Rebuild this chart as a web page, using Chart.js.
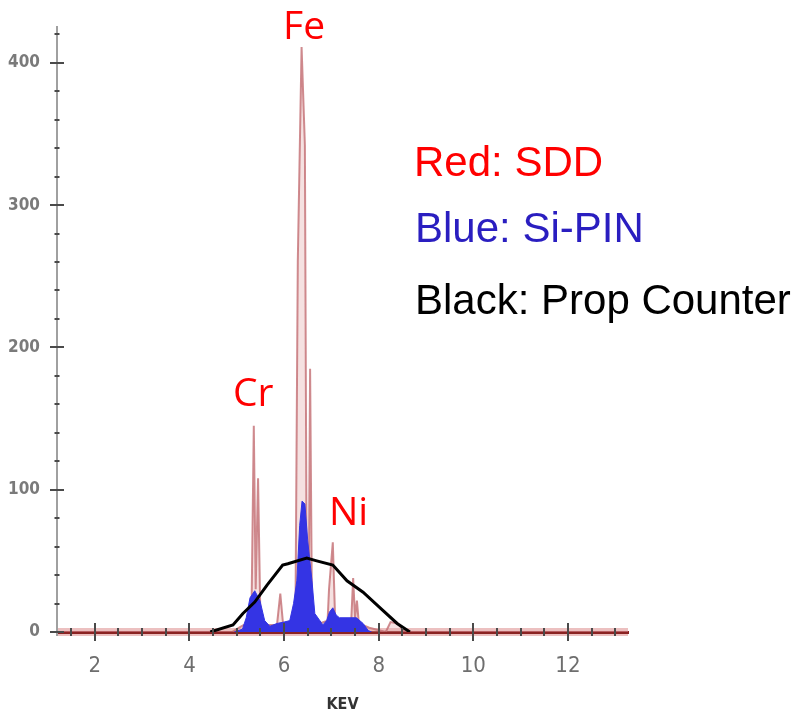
<!DOCTYPE html>
<html>
<head>
<meta charset="utf-8">
<script src="https://cdn.jsdelivr.net/npm/chart.js@4.4.0/dist/chart.umd.min.js"></script>
<style>
  html, body { margin: 0; padding: 0; background: #fff; }
  #wrap { position: relative; width: 801px; height: 714px; overflow: hidden; }
  .lbl { position: absolute; line-height: 1; white-space: nowrap; }
  .peak { font-family: 'Open Sans', sans-serif; font-size: 39px; color: #ff0000; }
  .key { font-family: 'Liberation Sans', Arial, sans-serif; font-size: 42px; }
</style>
</head>
<body>
<div id="wrap">
  <canvas id="chart" width="801" height="714"></canvas>
  <div class="lbl peak" style="left:283px;top:4px">Fe</div>
  <div class="lbl peak" style="left:233px;top:371px">Cr</div>
  <div class="lbl peak" style="left:329px;top:490px">Ni</div>
  <div class="lbl key" style="left:414px;top:141px;color:#ff0000">Red: SDD</div>
  <div class="lbl key" style="left:415px;top:207px;color:#2a1ec0">Blue: Si-PIN</div>
  <div class="lbl key" style="left:415px;top:279px;color:#000">Black: Prop Counter</div>
</div>
<script>
// Données (énergie en keV, coups)
const xTicks = [2, 4, 6, 8, 10, 12];
const yTicks = [0, 100, 200, 300, 400];

// SDD (rouge)
const sddEnergy = [1.2, 4.9, 5.05, 5.15, 5.25, 5.31, 5.36, 5.40, 5.45, 5.50, 5.60, 5.85, 5.92, 5.98, 6.15, 6.24, 6.29, 6.37, 6.44, 6.48, 6.52, 6.55, 6.59, 6.75, 6.92, 6.95, 7.03, 7.08, 7.30, 7.42, 7.46, 7.50, 7.54, 7.58, 7.80, 8.15, 8.25, 8.40, 8.55, 13.3];
const sddCounts = [0, 0, 3, 5, 6, 10, 145, 30, 108, 8, 5, 5, 27, 5, 6, 8, 260, 411, 342, 15, 20, 185, 12, 6, 8, 30, 63, 8, 6, 8, 38, 10, 22, 6, 3, 0, 7, 6, 0, 0];

// Si-PIN (bleu)
const pinEnergy = [4.95, 5.12, 5.20, 5.28, 5.38, 5.49, 5.59, 5.70, 5.85, 6.00, 6.12, 6.20, 6.27, 6.33, 6.38, 6.44, 6.50, 6.59, 6.65, 6.82, 6.90, 6.96, 7.03, 7.10, 7.17, 7.33, 7.53, 7.67, 7.78, 7.85];
const pinCounts = [0, 2, 10, 24, 29, 22, 8, 4, 6, 7, 8, 20, 36, 75, 92, 90, 64, 36, 13, 5, 8, 14, 17, 12, 10, 10, 10, 6, 1, 0];

// Compteur proportionnel (noir)
const propEnergy = [4.44, 4.92, 5.13, 5.38, 5.64, 5.97, 6.08, 6.48, 6.69, 7.03, 7.33, 7.67, 8.03, 8.39, 8.66];
const propCounts = [0, 5, 13, 21, 33, 47, 48, 52, 50, 47, 36, 28, 17, 6, 0];

const toPoints = (xs, ys) => xs.map((x, i) => ({ x, y: ys[i] }));

// Petites graduations croisées sur les axes
const crossTicks = {
  id: 'crossTicks',
  afterDraw(chart) {
    const ctx = chart.ctx;
    const xs = chart.scales.x;
    const ys = chart.scales.y;
    const { left, bottom } = chart.chartArea;
    ctx.save();
    ctx.strokeStyle = '#4a4a4a';
    ctx.lineWidth = 2;
    for (let v = 0; v <= 420; v += 20) {
      const py = Math.round(ys.getPixelForValue(v));
      const half = v % 100 === 0 ? 7 : 2.5;
      ctx.beginPath();
      ctx.moveTo(left - half, py);
      ctx.lineTo(left + half, py);
      ctx.stroke();
    }
    for (let v = 1.5; v <= 13.01; v += 0.5) {
      const px = Math.round(xs.getPixelForValue(v));
      const major = xTicks.includes(v);
      ctx.beginPath();
      ctx.moveTo(px, bottom - (major ? 9 : 4));
      ctx.lineTo(px, bottom + (major ? 9 : 4));
      ctx.stroke();
    }
    ctx.restore();
  }
};

const narrow = "'Liberation Sans Narrow', 'DejaVu Sans Condensed', sans-serif";

new Chart(document.getElementById('chart'), {
  type: 'line',
  data: {
    datasets: [
      {
        label: 'Prop Counter',
        data: toPoints(propEnergy, propCounts),
        borderColor: '#000',
        borderWidth: 3,
        pointRadius: 0,
        fill: false,
        order: 0
      },
      {
        label: 'Si-PIN',
        data: toPoints(pinEnergy, pinCounts),
        borderColor: 'rgb(52,52,228)',
        backgroundColor: 'rgb(52,52,228)',
        borderWidth: 1,
        pointRadius: 0,
        fill: 'origin',
        order: 1
      },
      {
        label: 'SDD',
        data: toPoints(sddEnergy, sddCounts),
        borderColor: 'rgba(195,110,115,0.8)',
        backgroundColor: 'rgba(225,170,170,0.35)',
        borderWidth: 2,
        pointRadius: 0,
        fill: 'origin',
        order: 2
      }
    ]
  },
  options: {
    responsive: false,
    animation: false,
    layout: { padding: { top: 24, right: 173, left: 0, bottom: 0 } },
    plugins: {
      legend: { display: false },
      tooltip: { enabled: false }
    },
    scales: {
      x: {
        type: 'linear',
        min: 1.2,
        max: 13.27,
        z: 1,
        afterFit: s => { s.height = 82; },
        afterBuildTicks: s => { s.ticks = xTicks.map(v => ({ value: v })); },
        grid: { display: false, drawTicks: false },
        border: { display: true, color: '#8b2323', width: 3 },
        ticks: {
          color: '#6e6e6e',
          padding: 21,
          maxRotation: 0,
          font: { family: narrow, size: 22 }
        },
        title: {
          display: true,
          text: 'KEV',
          color: '#333',
          padding: { top: 0, bottom: 0 },
          font: { family: narrow, size: 16, weight: 'bold' }
        }
      },
      y: {
        min: 0,
        max: 425,
        afterFit: s => { s.width = 57; },
        afterBuildTicks: s => { s.ticks = yTicks.map(v => ({ value: v })); },
        grid: {
          drawTicks: false,
          color: c => (c.tick && c.tick.value === 0 ? 'rgba(220,140,140,0.55)' : 'rgba(0,0,0,0)'),
          lineWidth: c => (c.tick && c.tick.value === 0 ? 8 : 0)
        },
        border: { display: true, color: '#a0a0a0', width: 2 },
        ticks: {
          color: '#7a7a7a',
          padding: 17,
          font: { family: narrow, size: 17, weight: 'bold' }
        }
      }
    }
  },
  plugins: [crossTicks]
});
</script>
</body>
</html>
